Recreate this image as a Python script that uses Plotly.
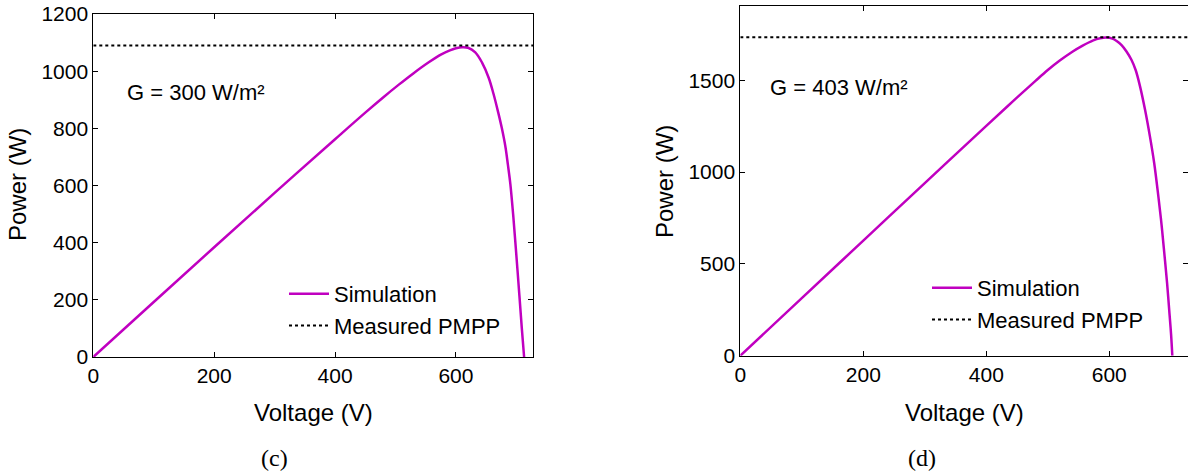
import plotly.graph_objects as go

# ---- data ----
V_c = [0, 100, 200, 300, 400, 450, 480, 505, 530, 555, 575, 590, 600, 610, 620,
       632, 643, 654, 662, 670, 676, 682, 686, 690, 695, 700, 705, 709, 712.8]
P_c = [0, 192.5, 384, 574, 762, 855, 909, 952, 993, 1031, 1058, 1073, 1080, 1084, 1082,
       1066, 1031, 978, 922, 855, 800, 734, 672, 606, 490, 355, 215, 100, 0]
PMPP_c = 1090
G_c = "G = 300 W/m²"

V_d = [0, 100, 200, 300, 400, 444, 480, 500, 520, 540, 556, 574, 585, 595, 605, 612, 620,
       628, 636, 643, 650, 658, 666, 673, 680, 684, 686, 690, 694, 698, 700.5, 702.5]
P_d = [0, 314, 627, 940, 1252, 1388, 1497, 1556, 1609, 1656, 1688, 1718, 1729, 1733, 1727, 1714, 1692,
       1657, 1612, 1555, 1467, 1342, 1196, 1050, 862, 745, 680, 540, 395, 225, 115, 0]
PMPP_d = 1735
G_d = "G = 403 W/m²"

XMAX_c, YMAX_c = 728, 1200
XMAX_d, YMAX_d = 728, 1905
yticks_c = [0, 200, 400, 600, 800, 1000, 1200]
yticks_d = [0, 500, 1000, 1500]
xticks = [0, 200, 400, 600]

W, H = 1188, 472
SIM_COLOR = "#C000C0"
FONT = "Liberation Sans, Arial, sans-serif"

def px(x):
    return x / W

def py(y):
    return 1 - y / H

fig = go.Figure()

sim_line = dict(color=SIM_COLOR, width=2.5, shape="spline", smoothing=1.0)
fig.add_trace(go.Scatter(x=V_c, y=P_c, mode="lines", name="Simulation", line=sim_line,
                         xaxis="x", yaxis="y", legend="legend"))
fig.add_trace(go.Scatter(x=[0, XMAX_c], y=[PMPP_c, PMPP_c], mode="lines", name="Measured PMPP",
                         line=dict(color="black", width=2, dash="dot"),
                         xaxis="x", yaxis="y", legend="legend"))
fig.add_trace(go.Scatter(x=V_d, y=P_d, mode="lines", name="Simulation", line=sim_line,
                         xaxis="x2", yaxis="y2", legend="legend2"))
fig.add_trace(go.Scatter(x=[0, XMAX_d], y=[PMPP_d, PMPP_d], mode="lines", name="Measured PMPP",
                         line=dict(color="black", width=2, dash="dot"),
                         xaxis="x2", yaxis="y2", legend="legend2"))

axis_common = dict(showgrid=False, zeroline=False, showline=True, linecolor="black", linewidth=1,
                   mirror="ticks", ticks="inside", ticklen=5, tickwidth=1, tickcolor="black",
                   automargin=False,
                   tickfont=dict(family=FONT, size=21, color="black"))

fig.update_layout(
    width=W, height=H,
    margin=dict(l=0, r=0, t=0, b=0, autoexpand=False),
    paper_bgcolor="white", plot_bgcolor="white",
    font=dict(family=FONT, color="black"),
    xaxis=dict(domain=[px(93.3), px(533.3)], range=[0, XMAX_c], tickvals=xticks, anchor="y", **axis_common),
    yaxis=dict(domain=[py(357), py(14)], range=[0, YMAX_c], tickvals=yticks_c, anchor="x", **axis_common),
    xaxis2=dict(domain=[px(740.3), 1.0], range=[0, XMAX_d], tickvals=xticks, anchor="y2", **axis_common),
    yaxis2=dict(domain=[py(355.7), py(6)], range=[0, YMAX_d], tickvals=yticks_d, anchor="x2", **axis_common),
    legend=dict(x=px(284), y=py(273), xanchor="left", yanchor="top", bgcolor="rgba(0,0,0,0)",
                borderwidth=0, font=dict(family=FONT, size=22, color="black"), itemwidth=40,
                tracegroupgap=0),
    legend2=dict(x=px(927), y=py(267), xanchor="left", yanchor="top", bgcolor="rgba(0,0,0,0)",
                 borderwidth=0, font=dict(family=FONT, size=22, color="black"), itemwidth=40,
                 tracegroupgap=0),
    showlegend=True,
)

ann = [
    dict(text=G_c, x=px(125), y=py(92), xanchor="left", yanchor="middle", font=dict(size=22)),
    dict(text=G_d, x=px(768), y=py(87), xanchor="left", yanchor="middle", font=dict(size=22)),
    dict(text="Power (W)", x=px(18), y=py(185), textangle=-90, xanchor="center", yanchor="middle", font=dict(size=24)),
    dict(text="Power (W)", x=px(664), y=py(182), textangle=-90, xanchor="center", yanchor="middle", font=dict(size=24)),
    dict(text="Voltage (V)", x=px(313.5), y=py(412), xanchor="center", yanchor="middle", font=dict(size=24)),
    dict(text="Voltage (V)", x=px(964), y=py(412), xanchor="center", yanchor="middle", font=dict(size=24)),
    dict(text="(c)", x=px(274), y=py(458), xanchor="center", yanchor="middle",
         font=dict(size=24, family="Liberation Serif, Times New Roman, serif")),
    dict(text="(d)", x=px(922), y=py(458), xanchor="center", yanchor="middle",
         font=dict(size=24, family="Liberation Serif, Times New Roman, serif")),
]
for a in ann:
    a.update(xref="paper", yref="paper", showarrow=False)
    a["font"] = dict(family=a["font"].get("family", FONT), size=a["font"]["size"], color="black")
fig.update_layout(annotations=ann)

fig.write_html("out.html", config={"displayModeBar": False},
               post_script="document.body.style.margin='0';document.body.style.overflow='hidden';")
